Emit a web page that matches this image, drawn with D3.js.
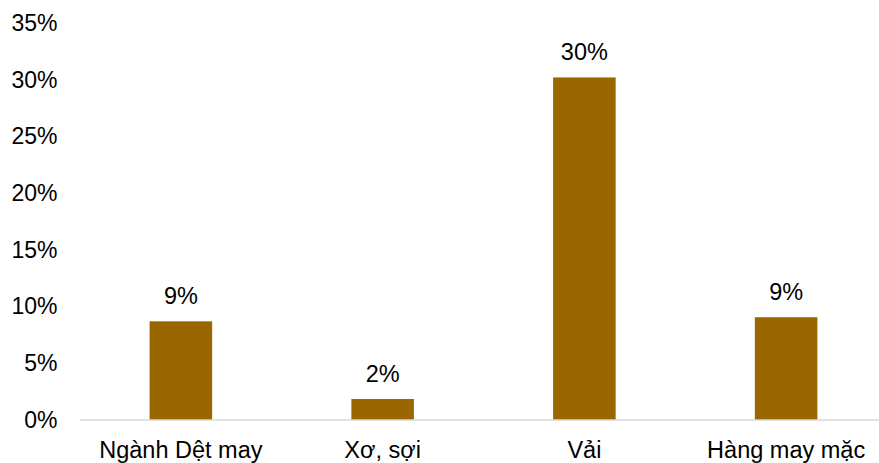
<!DOCTYPE html>
<html>
<head>
<meta charset="utf-8">
<script src="https://cdn.jsdelivr.net/npm/d3@7"></script>
<style>
  html, body { margin: 0; padding: 0; background: #fff; }
  svg { display: block; font-family: "Liberation Sans", Arial, sans-serif; }
</style>
</head>
<body>
<svg id="chart" width="879" height="463"></svg>
<script>
const categories = ["Ngành Dệt may", "Xơ, sợi", "Vải", "Hàng may mặc"];
const values = [0.087, 0.0185, 0.302, 0.0906];
const yTicks = [0, 0.05, 0.10, 0.15, 0.20, 0.25, 0.30, 0.35];

const svg = d3.select("#chart");
const W = 879, H = 463;
const x0 = 80, x1 = 887;
const yBase = 420, yTop = 23;

const x = d3.scaleBand().domain(categories).range([x0, x1])
  .paddingInner(0.69).paddingOuter(0.345);
const y = d3.scaleLinear().domain([0, 0.35]).range([yBase, yTop]);

// y axis labels
const yAxis = d3.axisLeft(y).tickValues(yTicks).tickFormat(d3.format(".0%")).tickSize(0).tickPadding(0);
const gy = svg.append("g").attr("transform", "translate(57.5,0)").call(yAxis);
gy.select(".domain").remove();
gy.selectAll("text").attr("font-size", "23px").attr("fill", "#000")
  .attr("font-family", "'Liberation Sans', Arial, sans-serif");

// bars
svg.append("g").selectAll("rect").data(values).join("rect")
  .attr("x", (d, i) => x(categories[i]))
  .attr("y", d => y(d))
  .attr("width", x.bandwidth())
  .attr("height", d => y(0) - y(d))
  .attr("fill", "#996600");

// x axis
const xAxis = d3.axisBottom(x).tickSize(0).tickPadding(0);
const gx = svg.append("g").attr("transform", `translate(0,${yBase})`).call(xAxis);
gx.select(".domain").attr("stroke", "#d9d9d9").attr("stroke-width", 1.5)
  .attr("d", `M${x0},0H${W}`);
gx.selectAll("text").attr("font-size", "23.5px").attr("fill", "#000")
  .attr("font-family", "'Liberation Sans', Arial, sans-serif")
  .attr("dy", null).attr("y", 38);

// value labels
svg.append("g").selectAll("text").data(values).join("text")
  .attr("x", (d, i) => x(categories[i]) + x.bandwidth() / 2)
  .attr("y", d => y(d) - 17)
  .attr("text-anchor", "middle")
  .attr("font-size", "23.5px")
  .attr("fill", "#000")
  .text(d => d3.format(".0%")(d));
</script>
</body>
</html>
